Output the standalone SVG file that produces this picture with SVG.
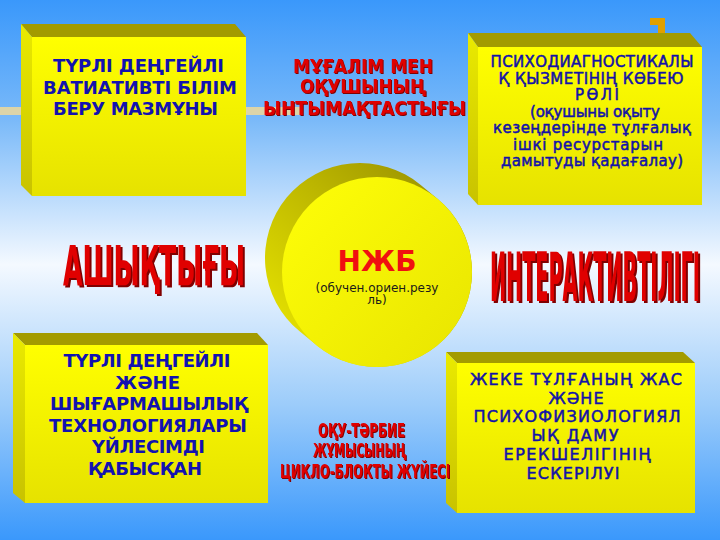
<svg xmlns="http://www.w3.org/2000/svg" width="720" height="540" viewBox="0 0 720 540">
<defs>
<linearGradient id="bg" x1="0" y1="0" x2="0" y2="1">
<stop offset="0" stop-color="#3a98fb"/>
<stop offset="0.22" stop-color="#79b9f9"/>
<stop offset="0.49" stop-color="#f4f9ff"/>
<stop offset="0.75" stop-color="#9cccfa"/>
<stop offset="1" stop-color="#3a98fc"/>
</linearGradient>
<linearGradient id="front" x1="0" y1="0" x2="0" y2="1">
<stop offset="0" stop-color="#ffff00"/>
<stop offset="1" stop-color="#e6e200"/>
</linearGradient>
<linearGradient id="side" x1="0" y1="0" x2="0" y2="1">
<stop offset="0" stop-color="#eaea00"/>
<stop offset="1" stop-color="#c8c200"/>
</linearGradient>
<linearGradient id="cylSide" gradientUnits="userSpaceOnUse" x1="440" y1="170" x2="290" y2="330">
<stop offset="0" stop-color="#9a9200"/>
<stop offset="0.45" stop-color="#bcb600"/>
<stop offset="1" stop-color="#e2de00"/>
</linearGradient>
<linearGradient id="cylFront" x1="0" y1="0" x2="1" y2="1">
<stop offset="0" stop-color="#ffff08"/>
<stop offset="1" stop-color="#e8e400"/>
</linearGradient>
<filter id="sh2" x="-5%" y="-10%" width="115%" height="130%">
<feOffset in="SourceAlpha" dx="2" dy="2" result="o"/>
<feFlood flood-color="#800000"/>
<feComposite in2="o" operator="in" result="s"/>
<feMerge><feMergeNode in="s"/><feMergeNode in="SourceGraphic"/></feMerge>
</filter>
<filter id="sh1" x="-5%" y="-10%" width="115%" height="130%">
<feOffset in="SourceAlpha" dx="1.2" dy="1.2" result="o"/>
<feFlood flood-color="#800000"/>
<feComposite in2="o" operator="in" result="s"/>
<feMerge><feMergeNode in="s"/><feMergeNode in="SourceGraphic"/></feMerge>
</filter>
</defs>
<style>
.top{fill:#a39b00}
.left{fill:url(#side)}
.face{fill:url(#front)}
.tb{font-family:"DejaVu Sans",Verdana,sans-serif;font-weight:bold;font-size:18px;fill:#1212b0;text-anchor:middle}
.tm{font-family:"DejaVu Sans",Verdana,sans-serif;font-size:15px;fill:#1212a8;stroke:#1212a8;stroke-width:0.5;text-anchor:middle}
.tm16{font-size:16px}
.red{font-family:"DejaVu Sans","Liberation Sans",sans-serif;font-weight:bold;fill:#e00000}
</style>
<rect width="720" height="540" fill="url(#bg)"/>

<g id="connectors">
<rect x="0" y="107" width="300" height="8" fill="#dcd4a8"/>
</g>

<g id="ornament">
<path d="M650 18 H665 V33 H658 V25 H650 Z" fill="#e0a000"/>
</g>

<g id="box1">
<polygon class="top" points="21,24 235,24 246,37 32,37"/>
<polygon class="left" points="21,24 32,37 32,196 21,185"/>
<rect class="face" x="32" y="37" width="214" height="159"/>
<text class="tb" x="138.5" y="72" textLength="171" lengthAdjust="spacing">ТҮРЛІ ДЕҢГЕЙЛІ</text>
<text class="tb" x="140" y="93.5" textLength="194" lengthAdjust="spacing">ВАТИАТИВТІ БІЛІМ</text>
<text class="tb" x="135.5" y="115" textLength="165" lengthAdjust="spacing">БЕРУ МАЗМҰНЫ</text>
</g>

<g id="box2">
<polygon class="top" points="468,33 690,33 702,47 478,47"/>
<polygon class="left" points="468,33 478,47 478,205 468,194"/>
<rect class="face" x="478" y="47" width="224" height="158"/>
<text class="tm" x="592" y="67" textLength="203" lengthAdjust="spacing">ПСИХОДИАГНОСТИКАЛЫ</text>
<text class="tm" x="591" y="83.5" textLength="185" lengthAdjust="spacing">Қ ҚЫЗМЕТІНІҢ КӨБЕЮ</text>
<text class="tm" x="597" y="100" textLength="44" lengthAdjust="spacing">РӨЛІ</text>
<text class="tm" x="595" y="116.5" textLength="130" lengthAdjust="spacing">(оқушыны оқыту</text>
<text class="tm" x="592" y="133" textLength="198" lengthAdjust="spacing">кезеңдерінде тұлғалық</text>
<text class="tm" x="588" y="149.5" textLength="150" lengthAdjust="spacing">ішкі ресурстарын</text>
<text class="tm" x="592" y="166" textLength="182" lengthAdjust="spacing">дамытуды қадағалау)</text>
</g>

<g id="box3">
<polygon class="top" points="13,333 257,333 268,345 25,345"/>
<polygon class="left" points="13,333 25,345 25,503 13,493"/>
<rect class="face" x="25" y="345" width="243" height="158"/>
<text class="tb" x="147" y="367" textLength="167" lengthAdjust="spacing">ТҮРЛІ ДЕҢГЕЙЛІ</text>
<text class="tb" x="147.5" y="388.6" textLength="65" lengthAdjust="spacing">ЖӘНЕ</text>
<text class="tb" x="149" y="410.2" textLength="198" lengthAdjust="spacing">ШЫҒАРМАШЫЛЫҚ</text>
<text class="tb" x="148" y="431.8" textLength="198" lengthAdjust="spacing">ТЕХНОЛОГИЯЛАРЫ</text>
<text class="tb" x="148.5" y="453.4" textLength="113" lengthAdjust="spacing">ҮЙЛЕСІМДІ</text>
<text class="tb" x="145" y="475" textLength="114" lengthAdjust="spacing">ҚАБЫСҚАН</text>
</g>

<g id="box4">
<polygon class="top" points="446,352 683,352 695,363 457,363"/>
<polygon class="left" points="446,352 457,363 457,513 446,503"/>
<rect class="face" x="457" y="363" width="238" height="150"/>
<text class="tm tm16" x="576" y="385" textLength="212" lengthAdjust="spacing">ЖЕКЕ ТҰЛҒАНЫҢ ЖАС</text>
<text class="tm tm16" x="576" y="403.5" textLength="55" lengthAdjust="spacing">ЖӘНЕ</text>
<text class="tm tm16" x="577" y="422" textLength="207" lengthAdjust="spacing">ПСИХОФИЗИОЛОГИЯЛ</text>
<text class="tm tm16" x="575" y="441" textLength="87" lengthAdjust="spacing">ЫҚ ДАМУ</text>
<text class="tm tm16" x="577" y="459.5" textLength="147" lengthAdjust="spacing">ЕРЕКШЕЛІГІНІҢ</text>
<text class="tm tm16" x="573" y="479" textLength="93" lengthAdjust="spacing">ЕСКЕРІЛУІ</text>
</g>

<g id="center">
<line x1="360" y1="258" x2="377" y2="272" stroke="url(#cylSide)" stroke-width="190" stroke-linecap="round"/>
<circle cx="377" cy="272" r="95" fill="url(#cylFront)"/>
<text x="377" y="271" text-anchor="middle" font-family="DejaVu Sans,sans-serif" font-weight="bold" font-size="28" fill="#f01010">НЖБ</text>
<text x="377" y="292" text-anchor="middle" font-family="DejaVu Sans,sans-serif" font-size="12" fill="#1a1a1a">(обучен.ориен.резу</text>
<text x="377" y="304" text-anchor="middle" font-family="DejaVu Sans,sans-serif" font-size="12" fill="#1a1a1a">ль)</text>
</g>

<g id="label-top" class="red" filter="url(#sh1)" font-size="19">
<text x="293" y="73" textLength="140" lengthAdjust="spacingAndGlyphs">МҰҒАЛІМ МЕН</text>
<text x="300" y="93" textLength="126" lengthAdjust="spacingAndGlyphs">ОҚУШЫНЫҢ</text>
<text x="263" y="115" textLength="203" lengthAdjust="spacingAndGlyphs">ЫНТЫМАҚТАСТЫҒЫ</text>
</g>

<g id="label-left" class="red" filter="url(#sh2)" font-size="56">
<text x="63" y="285" textLength="182" lengthAdjust="spacingAndGlyphs">АШЫҚТЫҒЫ</text>
</g>

<g id="label-right" class="red" filter="url(#sh2)" font-size="68">
<text transform="translate(490,301) scale(0.2861,1)" x="0" y="0" textLength="734" lengthAdjust="spacingAndGlyphs">ИНТЕРАКТИВТІЛІГІ</text>
</g>

<g id="label-bottom" class="red" filter="url(#sh1)" font-size="20">
<text x="318" y="437" textLength="87" lengthAdjust="spacingAndGlyphs">ОҚУ-ТӘРБИЕ</text>
<text x="313" y="457" textLength="93" lengthAdjust="spacingAndGlyphs">ЖҰМЫСЫНЫҢ</text>
<text x="280" y="478" textLength="170" lengthAdjust="spacingAndGlyphs">ЦИКЛО-БЛОКТЫ ЖҮЙЕСІ</text>
</g>
</svg>
